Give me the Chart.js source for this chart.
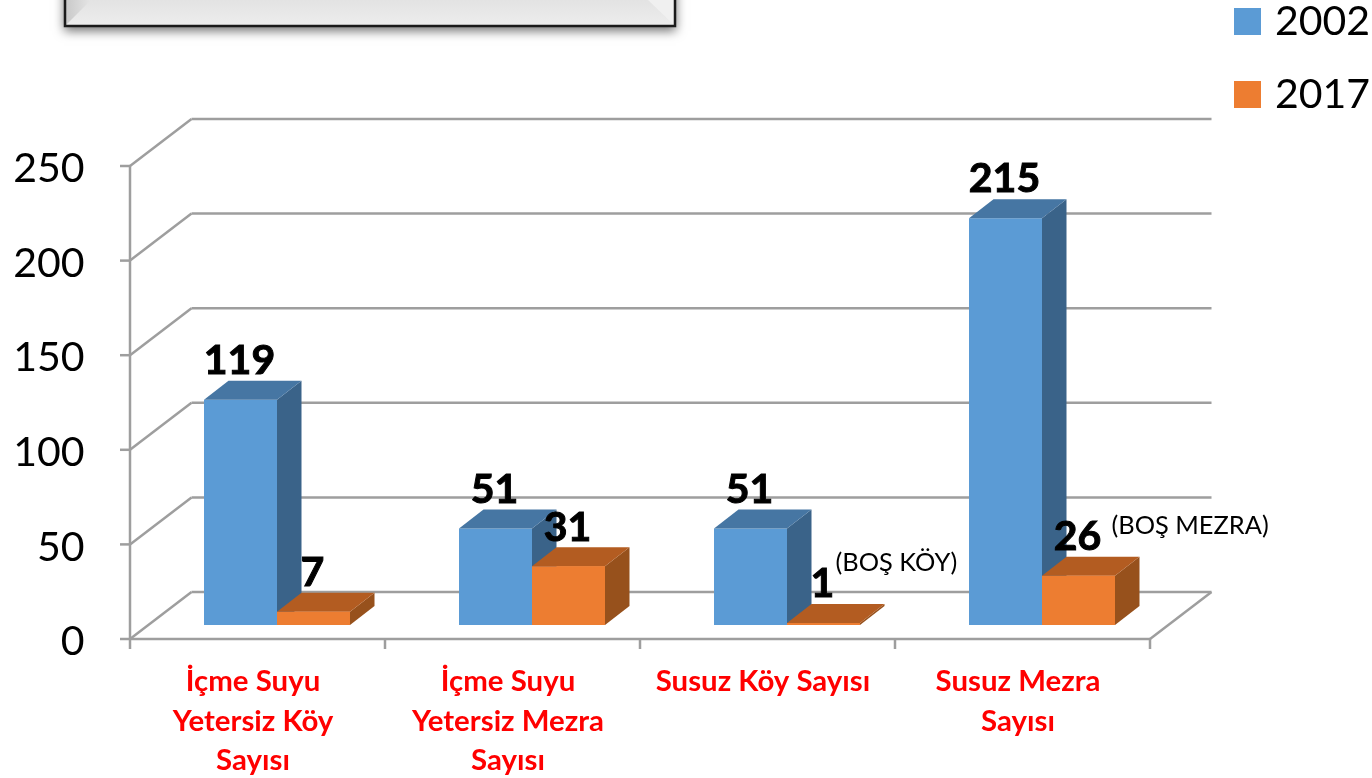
<!DOCTYPE html>
<html lang="tr">
<head>
<meta charset="utf-8">
<title>Susuz Köy ve Mezra Sayıları</title>
<script src="https://cdn.jsdelivr.net/npm/chart.js@4"></script>
<style>
    html, body { margin: 0; padding: 0; background: #fff; overflow: hidden; }
    #wrap { width: 1372px; height: 778px; }
</style>
</head>
<body>
<div id="wrap"><canvas id="suChart"></canvas></div>
<script>
const categories = [
    ["İçme Suyu", "Yetersiz Köy", "Sayısı"],
    ["İçme Suyu", "Yetersiz Mezra", "Sayısı"],
    "Susuz Köy Sayısı",
    ["Susuz Mezra", "Sayısı"]
];
const values2002 = [119, 51, 51, 215];
const values2017 = [7, 31, 1, 26];
const seriesNames = ["2002", "2017"];
const yTicks = [0, 50, 100, 150, 200, 250];
const notes = ["", "", "(BOŞ KÖY)", "(BOŞ MEZRA)"];

/* =========================
   3D LOOK
========================== */
const FONT = "Lato";
const DEPTH_X = 24.5, DEPTH_Y = 19;      // bar depth
const BACK_X = 42, BACK_Y = 33;          // bar plane -> back wall
const FRONT_X = 19.5, FRONT_Y = 14;      // bar plane -> front edge
const GRID = "#9e9e9e";
const shades = [
    { top: "#4676a3", side: "#3a6389" },
    { top: "#b35c21", side: "#97511c" }
];

function poly(ctx, pts, color) {
    ctx.fillStyle = color;
    ctx.beginPath();
    pts.forEach((p, i) => i ? ctx.lineTo(p[0], p[1]) : ctx.moveTo(p[0], p[1]));
    ctx.closePath();
    ctx.fill();
}

function line(ctx, x1, y1, x2, y2) {
    ctx.beginPath();
    ctx.moveTo(x1, y1);
    ctx.lineTo(x2, y2);
    ctx.stroke();
}

function drawFrame(ctx) {
    // panel cut off by the top of the picture
    ctx.save();
    ctx.shadowColor = "rgba(0,0,0,0.55)";
    ctx.shadowBlur = 10;
    ctx.shadowOffsetY = 4;
    ctx.fillStyle = "#e6e6e6";
    ctx.fillRect(64, -20, 612, 47);
    ctx.restore();

    const g = ctx.createLinearGradient(0, 0, 0, 26);
    g.addColorStop(0, "#e3e3e3");
    g.addColorStop(1, "#ededed");
    ctx.fillStyle = g;
    ctx.fillRect(64, 0, 612, 27);

    const left = ctx.createLinearGradient(65, 0, 90, 0);
    left.addColorStop(0, "#c8c8c8");
    left.addColorStop(1, "#e4e4e4");
    poly(ctx, [[65, 26], [65, 0], [91, 0]], left);
    poly(ctx, [[675, 26], [675, 0], [648, 0]], "#f0f0f0");

    ctx.strokeStyle = "#1a1a1a";
    ctx.lineWidth = 2.5;
    ctx.beginPath();
    ctx.moveTo(65, -5);
    ctx.lineTo(65, 26);
    ctx.lineTo(675, 26);
    ctx.lineTo(675, -5);
    ctx.stroke();
}

const threeD = {
    id: "threeD",
    afterLayout(chart) {
        // legend sits in the top right corner, outside the plot
        const legend = chart.legend;
        legend.left = 1208.5;
        legend.right = 1372;
        legend.top = -31;
        legend.bottom = 400;
    },
    beforeDatasetsDraw(chart) {
        const { ctx, scales: { x, y } } = chart;
        drawFrame(ctx);

        const left = x.left - FRONT_X;
        const right = x.right - FRONT_X;
        const backDx = BACK_X + FRONT_X;
        const bottom = y.getPixelForValue(0) + FRONT_Y;

        ctx.save();
        ctx.strokeStyle = GRID;
        ctx.lineWidth = 2.5;
        yTicks.forEach(v => {
            const py = y.getPixelForValue(v);
            line(ctx, left - 10, py + FRONT_Y, left, py + FRONT_Y);
            line(ctx, left, py + FRONT_Y, left + backDx, py - BACK_Y);
            line(ctx, left + backDx, py - BACK_Y, right + backDx, py - BACK_Y);
        });
        line(ctx, left, y.getPixelForValue(250) + FRONT_Y, left, bottom);
        line(ctx, left, bottom, right, bottom);
        line(ctx, right, bottom, right + backDx, y.getPixelForValue(0) - BACK_Y);
        for (let i = 0; i <= categories.length; i++) {
            const px = left + i * (right - left) / categories.length;
            line(ctx, px, bottom, px, bottom + 10);
        }
        ctx.restore();
    },
    afterDatasetsDraw(chart) {
        const { ctx } = chart;
        // series 2002 first, so that the 2017 bars stand in front of its side faces
        [0, 1].forEach(d => {
            chart.getDatasetMeta(d).data.forEach(bar => {
                const half = bar.width / 2;
                const l = bar.x - half, r = bar.x + half;
                poly(ctx, [[r, bar.y], [r + DEPTH_X, bar.y - DEPTH_Y],
                    [r + DEPTH_X, bar.base - DEPTH_Y], [r, bar.base]], shades[d].side);
                poly(ctx, [[l, bar.y], [l + DEPTH_X, bar.y - DEPTH_Y],
                    [r + DEPTH_X, bar.y - DEPTH_Y], [r, bar.y]], shades[d].top);
                if (d === 1) bar.draw(ctx);
            });
        });

        // value labels
        ctx.save();
        ctx.fillStyle = "#000";
        ctx.strokeStyle = "#000";
        ctx.lineWidth = 1;
        ctx.textAlign = "center";
        ctx.textBaseline = "middle";
        ctx.font = `bold 41px ${FONT}`;
        chart.data.datasets.forEach((ds, d) => {
            chart.getDatasetMeta(d).data.forEach((bar, i) => {
                ctx.fillText(ds.data[i], bar.x - 1, bar.y - 39);
                ctx.strokeText(ds.data[i], bar.x - 1, bar.y - 39);
            });
        });

        // notes next to the 2017 bars
        ctx.font = `25.4px ${FONT}`;
        ctx.textAlign = "left";
        chart.getDatasetMeta(1).data.forEach((bar, i) => {
            if (notes[i]) ctx.fillText(notes[i], bar.x + (i === 2 ? 12 : 33), bar.y - (i === 2 ? 60 : 50));
        });
        ctx.restore();
    }
};

/* =========================
   CHART.JS
========================== */
new Chart(document.getElementById("suChart"), {
    type: "bar",
    data: {
        labels: categories,
        datasets: [
            { label: seriesNames[0], data: values2002, backgroundColor: "#5b9bd5" },
            { label: seriesNames[1], data: values2017, backgroundColor: "#ed7d31" }
        ]
    },
    options: {
        responsive: true,
        maintainAspectRatio: false,
        animation: false,
        layout: { padding: { top: 152, right: 202.5, left: 0, bottom: 0 } },
        datasets: { bar: { barPercentage: 1, categoryPercentage: 0.5725 } },
        plugins: {
            tooltip: { enabled: false },
            legend: {
                position: "chartArea",
                align: "start",
                labels: {
                    // small box + thick stroke gives a 27px square with the text closer to it
                    boxWidth: 14,
                    boxHeight: 14,
                    padding: 32,
                    color: "#000",
                    font: { family: FONT, size: 41 },
                    generateLabels: (chart) => Chart.defaults.plugins.legend.labels.generateLabels(chart)
                        .map(item => ({ ...item, strokeStyle: item.fillStyle, lineWidth: 13 }))
                }
            }
        },
        scales: {
            x: {
                grid: { display: false },
                border: { display: false },
                afterFit: (scale) => { scale.height = 153; },
                ticks: {
                    autoSkip: false,
                    maxRotation: 0,
                    padding: 29,
                    labelOffset: -24,
                    color: "#ff0000",
                    font: { family: FONT, size: 29.4, weight: "bold", lineHeight: 1.34 }
                }
            },
            y: {
                min: 0,
                max: 250,
                grid: { display: false },
                border: { display: false },
                afterFit: (scale) => { scale.width = 149.5; },
                ticks: {
                    stepSize: 50,
                    padding: 57,
                    labelOffset: FRONT_Y + 3,
                    color: "#000",
                    font: { family: FONT, size: 41 }
                }
            }
        }
    },
    plugins: [threeD]
});
</script>
</body>
</html>
